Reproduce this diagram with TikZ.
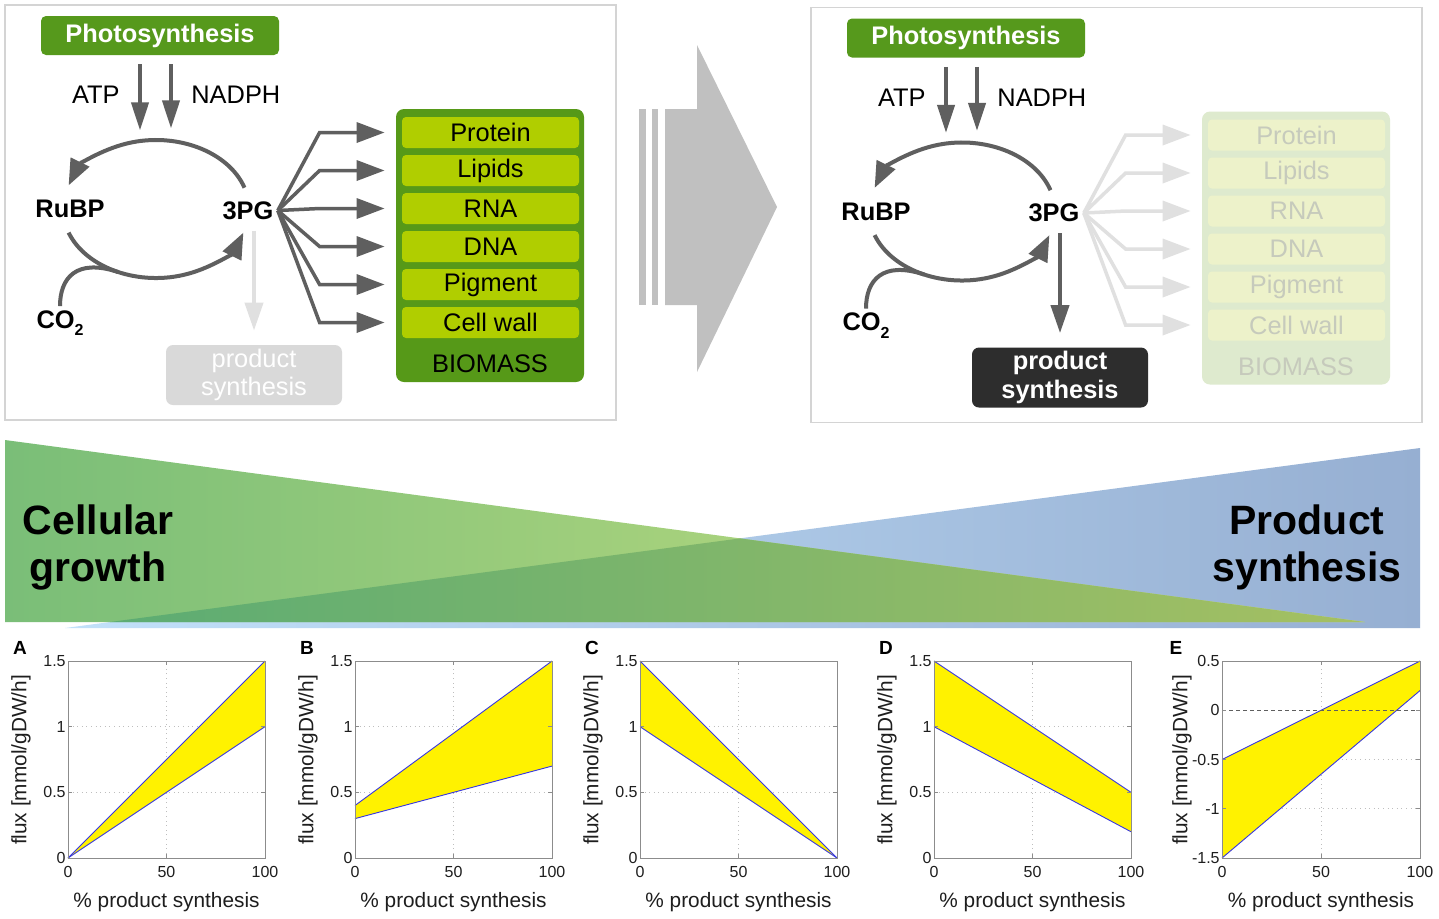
\documentclass[tikz,border=0pt]{standalone}
\usepackage{fontspec}
\setmainfont{Liberation Sans}
\usetikzlibrary{arrows.meta,calc}
\definecolor{psgreen}{RGB}{86,153,28}
\definecolor{biogreen}{RGB}{86,153,24}
\definecolor{rowgreen}{RGB}{176,206,0}
\definecolor{agray}{RGB}{95,95,95}
\definecolor{fgray}{RGB}{224,224,224}
\definecolor{lbox}{RGB}{217,217,217}
\definecolor{dbox}{RGB}{45,45,45}
\definecolor{fbio}{RGB}{222,234,206}
\definecolor{frow}{RGB}{237,242,202}
\definecolor{ftext}{RGB}{198,202,188}
\definecolor{bigarrow}{RGB}{192,192,192}
\definecolor{pborder}{RGB}{212,212,212}
\definecolor{gL}{RGB}{122,190,120}
\definecolor{gR}{RGB}{207,227,129}
\definecolor{bL}{RGB}{194,225,250}
\definecolor{bR}{RGB}{150,175,210}
\definecolor{oL}{RGB}{92,172,115}
\definecolor{oR}{RGB}{165,192,98}
\definecolor{gridc}{RGB}{190,190,190}
\definecolor{plotblue}{RGB}{55,55,225}
\definecolor{axc}{RGB}{140,140,140}
\definecolor{tickc}{RGB}{30,30,30}

\newcommand\mainfs{\fontsize{12.7}{14.2}\selectfont}

\tikzset{
 psbox/.style={fill=psgreen, rounded corners=2.5pt, minimum width=119pt, minimum height=19.5pt, inner sep=0pt, text=white, font=\mainfs\bfseries},
 lab/.style={font=\mainfs, inner sep=1pt},
 blab/.style={font=\mainfs\bfseries, inner sep=2pt},
 atparrow/.style={draw=agray, line width=2pt, -{Triangle[length=14pt,width=8.5pt]}},
 cycarrow/.style={draw=agray, line width=2pt, -{Triangle[length=13pt,width=10pt]}},
 cycline/.style={draw=agray, line width=2pt},
 panelbox/.style={draw=pborder, line width=0.75pt, fill=white, inner sep=0pt},
 biobase/.style={rounded corners=4pt, minimum width=94pt, minimum height=136.5pt, inner sep=0pt},
 rowbase/.style={rounded corners=2pt, minimum width=88.5pt, minimum height=15.5pt, inner sep=0pt, font=\mainfs},
 prodbase/.style={rounded corners=3.5pt, minimum width=88pt, minimum height=30pt, inner sep=0pt, align=center, text=white},
 fanbase/.style={line width=1.75pt, -{Triangle[length=14pt,width=10pt]}},
 bigtext/.style={font=\fontsize{20.5}{23.5}\selectfont\bfseries, align=center, inner sep=0pt},
 gridln/.style={draw=gridc, line width=0.3pt, dotted},
 blueln/.style={draw=plotblue, line width=0.45pt},
 axbox/.style={draw=axc, line width=0.5pt},
 ticklab/.style={font=\fontsize{8}{9}\selectfont, text=tickc, inner sep=1pt},
 axlab/.style={font=\fontsize{10.4}{12}\selectfont, text=tickc, inner sep=0pt},
 letter/.style={font=\fontsize{9.5}{11}\selectfont\bfseries, inner sep=0pt},
}

% #1 prefix, #2 dx, #3 dy
\newcommand\toppanel[3]{%
 \node[panelbox, minimum width=305.5pt, minimum height=207.5pt, anchor=north west] (#1frame) at ({#2+4},{#3+4}) {};
 \node[psbox] (#1ps) at ({#2+160},{#3+35.5}) {Photosynthesis};
 \draw[atparrow] ($(#1ps.south)+(-20,9)$) -- ($(#1ps.south)+(-20,75)$);
 \draw[atparrow] ($(#1ps.south)+(11,9)$) -- ($(#1ps.south)+(11,73)$);
 \node[lab, anchor=east] (#1atp) at ({#2+122},{#3+95}) {ATP};
 \node[lab, anchor=west] (#1nadph) at ({#2+189},{#3+95}) {NADPH};
 \node[blab] (#1rubp) at ({#2+70},{#3+209}) {RuBP};
 \node[blab] (#13pg) at ({#2+248},{#3+210.5}) {3PG};
 \node[blab] (#1co2) at ({#2+60},{#3+323}) {CO\raisebox{-0.55ex}{\fontsize{8}{8}\selectfont 2}};
 \coordinate (#1c) at ({#2+156},{#3+209});
 \draw[cycarrow] ($(#1c)+(-18:93 and 69)$) arc[start angle=-18, end angle=-160, x radius=93, y radius=69];
 \draw[cycarrow] ($(#1c)+(160:93 and 69)$) arc[start angle=160, end angle=20, x radius=93, y radius=69];
 \draw[cycline] (#1co2.north) .. controls +(0,-28) and +(-42,-14) .. ($(#1c)+(114:93 and 69)$);
 \node[biobase, biobox] (#1bio) at ({#2+490},{#3+245.5}) {};
 \foreach \t [count=\i] in {Protein,Lipids,RNA,DNA,Pigment,Cell wall} {
  \node[rowbase, rowbox] (#1row\i) at ({#2+490.5},{#3+132.5+38*(\i-1)}) {\t};
  \draw[fanbase, fanln] (#13pg.east) -- ($(#1row\i.west)+(-82,0)$) -- ($(#1row\i.west)+(-17,0)$);
 }
 \node[rowbase, biotext] (#1biomass) at ({#2+490},{#3+364}) {BIOMASS};
 \node[prodbase, prodbox] (#1prod) at ({#2+254},{#3+375}) {product\\synthesis};
 \coordinate (#1pstart) at (#13pg.south -| #1prod.north);
 \draw[prodarrow] ($(#1pstart)+(0,7)$) -- ($(#1prod.north)+(0,-14)$);
}

% #1 letter, #2 x0, #3 l0, #4 l1, #5 u0, #6 u1
\newcommand\fluxplot[6]{%
 \begin{scope}[shift={(#2,858)}, x=0.985pt, y=65.667pt]
  \draw[gridln] (50,0) -- (50,1.5);
  \draw[gridln] (0,0.5) -- (100,0.5);
  \draw[gridln] (0,1) -- (100,1);
  \fill[yellow] (0,#3) -- (100,#4) -- (100,#6) -- (0,#5) -- cycle;
  \draw[blueln] (0,#3) -- (100,#4);
  \draw[blueln] (0,#5) -- (100,#6);
  \draw[axbox] (0,0) rectangle (100,1.5);
  \foreach \t in {0.5,1} {\draw[axbox] (0,\t) -- ++(2,0); \draw[axbox] (100,\t) -- ++(-2,0);}
  \draw[axbox] (50,0) -- ++(0,0.03); \draw[axbox] (50,1.5) -- ++(0,-0.03);
  \foreach \t [count=\i] in {0,0.5,1,1.5} \node[ticklab, anchor=east] (#1yt\i) at (0,\t) {\t};
  \foreach \t [count=\i] in {0,50,100} \node[ticklab, anchor=north, yshift=-3pt] (#1xt\i) at (\t,0) {\t};
 \end{scope}
 \node[letter] (#1let) at ({#2-48},648) {#1};
 \node[axlab] (#1xl) at ({#2+98.5},902) {\% product synthesis};
 \node[axlab, rotate=90] (#1yl) at ({#2-47},760) {flux [mmol/gDW/h]};
}

\begin{document}
\begin{tikzpicture}[x=0.5pt, y=-0.5pt]
\useasboundingbox (0,0) rectangle (1439,918);
\fill[white] (0,0) rectangle (1439,918);

% left panel
\tikzset{
 biobox/.style={fill=biogreen}, rowbox/.style={fill=rowgreen, text=black},
 biotext/.style={text=black}, fanln/.style={draw=agray},
 prodbox/.style={fill=lbox, font=\mainfs},
 prodarrow/.style={draw=fgray, line width=2pt, -{Triangle[length=14pt,width=9pt]}}}
\toppanel{L}{0}{0}

% right panel
\tikzset{
 biobox/.style={fill=fbio}, rowbox/.style={fill=frow, text=ftext},
 biotext/.style={text=ftext}, fanln/.style={draw=fgray},
 prodbox/.style={fill=dbox, font=\mainfs\bfseries},
 prodarrow/.style={draw=agray, line width=2pt, -{Triangle[length=14pt,width=9pt]}}}
\toppanel{R}{806}{2.5}

% big arrow
\fill[bigarrow] (665,109) -- (697,109) -- (697,45) -- (777,207) -- (697,372) -- (697,305) -- (665,305) -- cycle;
\fill[bigarrow] (639,109) rectangle (646,305);
\fill[bigarrow] (652,109) rectangle (658,305);

% gradient triangles
\shade[left color=bL, right color=bR] (1420,448) -- (1420,628) -- (65,628) -- cycle;
\shade[left color=gL, right color=gR] (5,440) -- (5,622) -- (1365,622) -- cycle;
\shade[left color=oL, right color=oR] (110,622) -- (740,538.4) -- (1365,622) -- cycle;
\node[bigtext] (cg) at (98,547) {Cellular\\growth};
\node[bigtext] (psyn) at (1307,547) {Product\\synthesis};

% plots
\fluxplot{A}{68}{0}{1}{0}{1.5}
\fluxplot{B}{355}{0.3}{0.7}{0.4}{1.5}
\fluxplot{C}{640}{1}{0}{1.5}{0}
\fluxplot{D}{934}{1}{0.2}{1.5}{0.5}

% plot E
\begin{scope}[shift={(1222,710.25)}, x=0.99pt, y=49.25pt]
 \draw[gridln] (50,-1.5) -- (50,0.5);
 \draw[gridln] (0,-1) -- (100,-1);
 \draw[gridln] (0,-0.5) -- (100,-0.5);
 \fill[yellow] (0,-1.5) -- (100,0.2) -- (100,0.5) -- (0,-0.5) -- cycle;
 \draw[blueln] (0,-1.5) -- (100,0.2);
 \draw[blueln] (0,-0.5) -- (100,0.5);
 \draw[draw=agray, line width=0.5pt, dash pattern=on 2pt off 1.5pt] (0,0) -- (100,0);
 \draw[axbox] (0,-1.5) rectangle (100,0.5);
 \foreach \t in {-1,-0.5,0} {\draw[axbox] (0,\t) -- ++(2,0); \draw[axbox] (100,\t) -- ++(-2,0);}
 \draw[axbox] (50,-1.5) -- ++(0,0.04); \draw[axbox] (50,0.5) -- ++(0,-0.04);
 \foreach \t [count=\i] in {-1.5,-1,-0.5,0,0.5} \node[ticklab, anchor=east] (Eyt\i) at (0,\t) {\t};
 \foreach \t [count=\i] in {0,50,100} \node[ticklab, anchor=north, yshift=-3pt] (Ext\i) at (\t,-1.5) {\t};
\end{scope}
\node[letter] (Elet) at (1176,648) {E};
\node[axlab] (Exl) at (1321,902) {\% product synthesis};
\node[axlab, rotate=90] (Eyl) at (1182,760) {flux [mmol/gDW/h]};
\end{tikzpicture}
\end{document}
